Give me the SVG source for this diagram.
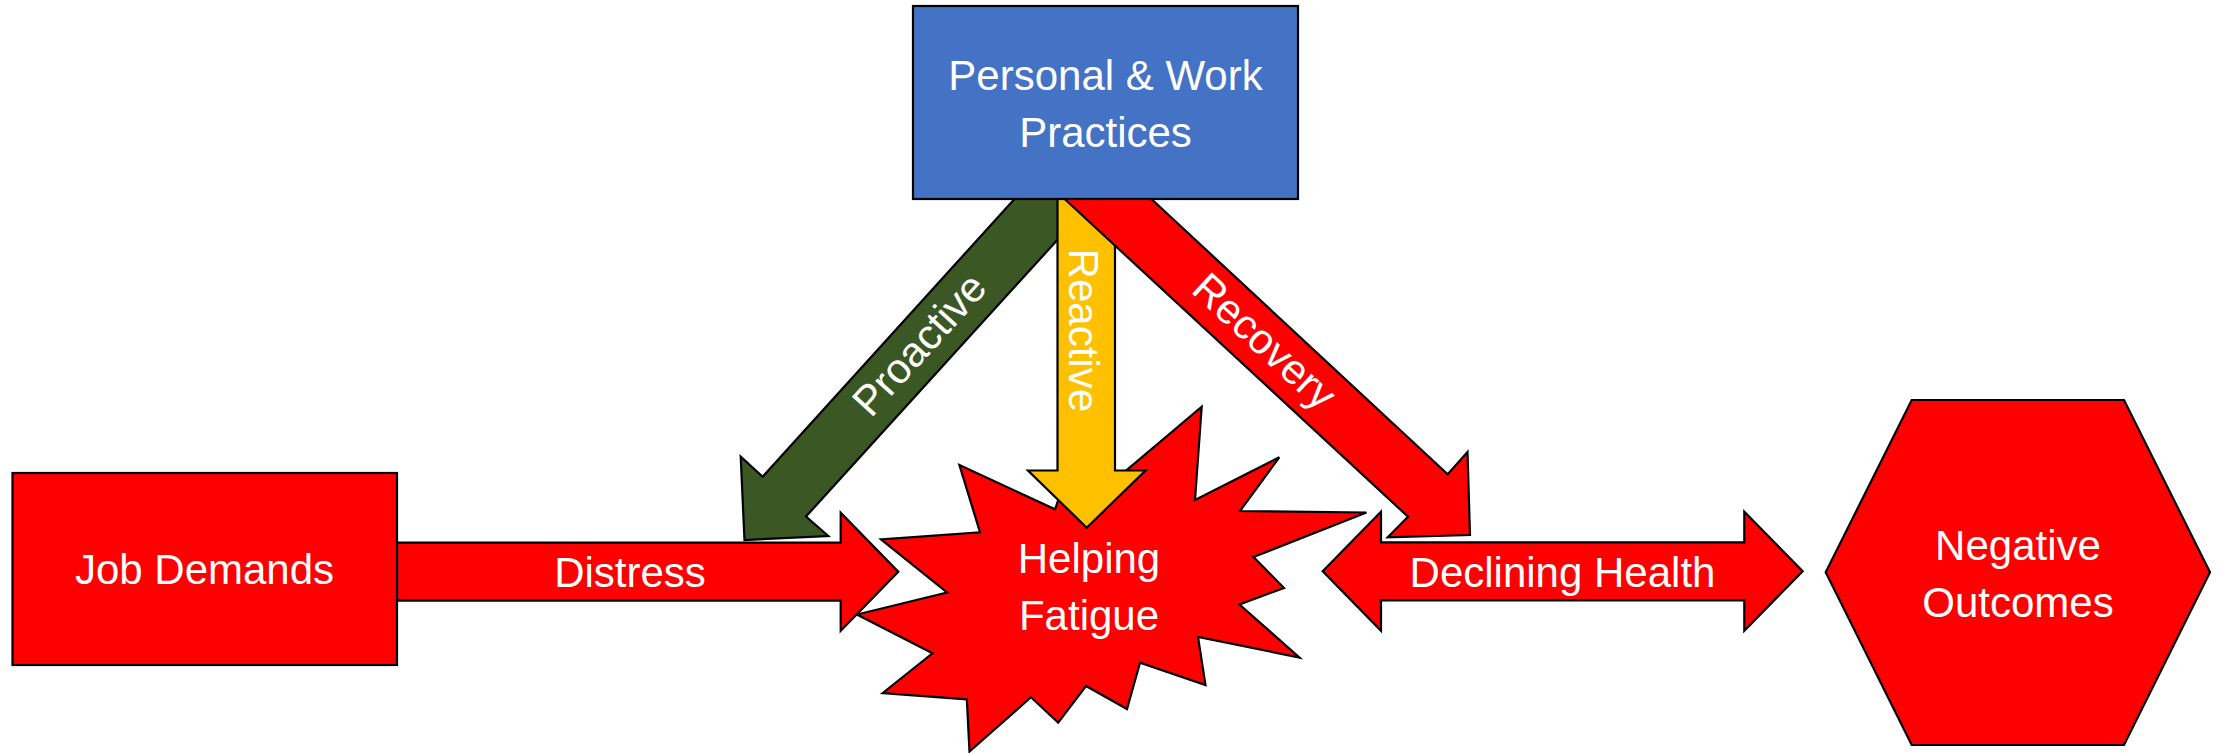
<svg xmlns="http://www.w3.org/2000/svg" width="2221" height="753" viewBox="0 0 2221 753">
  <style>
    .shape { stroke: #000; stroke-width: 2.2; stroke-linejoin: miter; }
    .red { fill: #FF0000; }
    .blue { fill: #4472C4; }
    .green { fill: #3A5724; }
    .yellow { fill: #FFC000; }
    .label { font-family: "Liberation Sans", Arial, sans-serif; font-size: 42px; fill: #FFFFFF; text-anchor: middle; }
  </style>
  <rect width="2221" height="753" fill="#FFFFFF"/>

  <!-- Helping Fatigue burst (sits beneath the incoming arrows) -->
  <g id="helping-fatigue">
    <polygon class="shape red" points="959.4,465 1055,509.3 1057.7,501.7 1075,450 1105,488.3 1201.7,406.7 1195,500 1279.3,457.3 1240,511 1366.5,512.5 1253.5,557 1284,588 1239.5,604.5 1299.5,657.5 1198,637 1205.5,685 1140,662.7 1127,709 1086,686 1058.2,722.7 1031,697.2 969.5,751.5 966.8,699.3 882.7,693 932.5,653.3 857,614.5 947,592.5 881,539.3 980,532.3"/>
    <text class="label" x="1089" y="572.7">Helping</text>
    <text class="label" x="1089" y="630">Fatigue</text>
  </g>

  <!-- Connectors: block arrows with their labels -->
  <g id="connectors">
    <!-- Distress: Job Demands to Helping Fatigue -->
    <polygon class="shape red" points="397,542.7 840.7,542.7 840.7,512.7 898.3,571.7 840.7,630.7 840.7,600.7 397,600.7"/>
    <text class="label" x="630" y="587">Distress</text>

    <!-- Proactive -->
    <polygon class="shape green" points="1028,184 762.7,476.7 740.7,456.7 744.5,540 828.3,536 806,516.5 1080,215 1080,184"/>
    <text class="label" transform="translate(921,346) rotate(-47.74)" x="0" y="12">Proactive</text>

    <!-- Reactive -->
    <polygon class="shape yellow" points="1057.5,190 1057.5,470.5 1028,470.5 1086.7,527.7 1145.5,470.5 1115,470.5 1115,190"/>
    <text class="label" transform="translate(1068.5,330.3) rotate(90)" x="0" y="0">Reactive</text>

    <!-- Recovery -->
    <polygon class="shape red" points="1050.3,185.7 1408,516.7 1387.7,537.3 1470,535 1467.5,452 1447.7,474.2 1151.7,199.3 1136.8,185.5"/>
    <text class="label" transform="translate(1263,343) rotate(42.75)" x="0" y="12">Recovery</text>

    <!-- Declining Health: double-headed -->
    <polygon class="shape red" points="1322.7,571.3 1381,511.8 1381,542.3 1744.3,542.3 1744.3,511.8 1802.7,571.3 1744.3,630.8 1744.3,600.3 1381,600.3 1381,630.8"/>
    <text class="label" x="1562.5" y="586.7">Declining Health</text>
  </g>

  <g id="job-demands">
    <rect class="shape red" x="12.5" y="473" width="384.5" height="192"/>
    <text class="label" x="204.5" y="584">Job Demands</text>
  </g>

  <g id="personal-work-practices">
    <rect class="shape blue" x="913" y="6" width="385" height="193"/>
    <text class="label" x="1105.5" y="90">Personal &amp; Work</text>
    <text class="label" x="1105.5" y="147">Practices</text>
  </g>

  <g id="negative-outcomes">
    <polygon class="shape red" points="1911.7,400 2124,400 2210,572.3 2124,745 1911.7,745 1825.7,572.3"/>
    <text class="label" x="2018" y="560">Negative</text>
    <text class="label" x="2018" y="617.3">Outcomes</text>
  </g>
</svg>
